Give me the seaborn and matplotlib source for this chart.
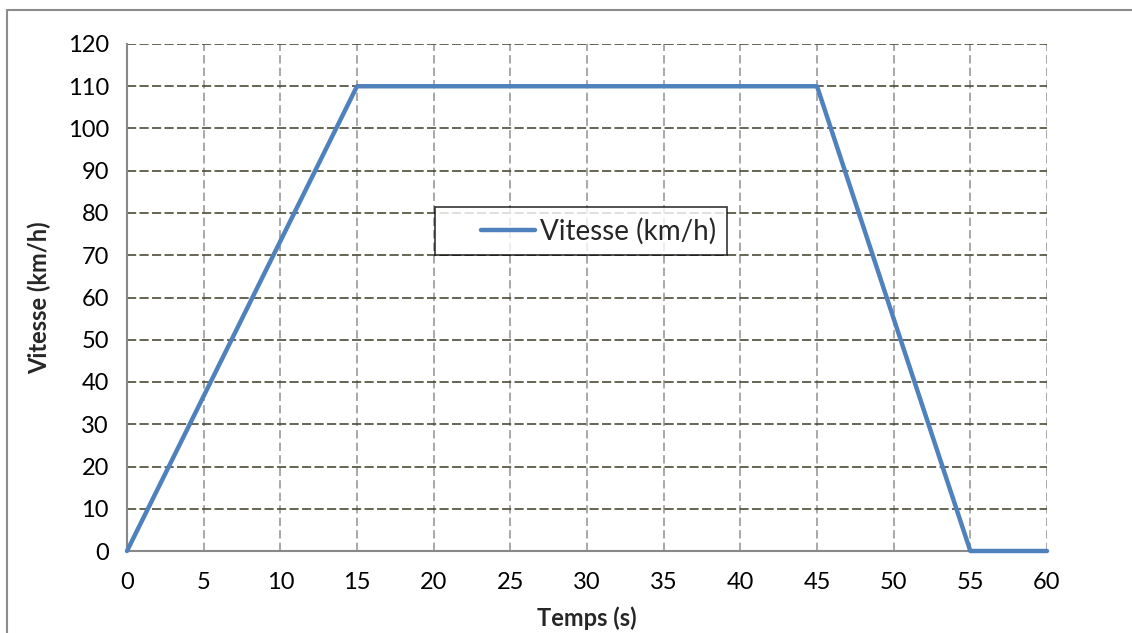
import matplotlib
matplotlib.use("Agg")
import matplotlib.pyplot as plt
import seaborn as sns
import pandas as pd
from matplotlib.lines import Line2D
from matplotlib.legend_handler import HandlerLine2D

temps = [0, 15, 45, 55, 60]
vitesse = [0, 110, 110, 0, 0]
x_ticks = [0, 5, 10, 15, 20, 25, 30, 35, 40, 45, 50, 55, 60]
y_ticks = [0, 10, 20, 30, 40, 50, 60, 70, 80, 90, 100, 110, 120]
series_name = "Vitesse (km/h)"

sns.set_theme(style="white")
plt.rcParams['font.family'] = ['Lato', 'DejaVu Sans']

df = pd.DataFrame({"Temps (s)": temps, series_name: vitesse})

fig = plt.figure(figsize=(11.32, 6.33), dpi=100)
ax = fig.add_axes([127/1132, 1 - 551/633, 920/1132, 507/633])

sns.lineplot(data=df, x="Temps (s)", y=series_name, ax=ax, color="#4f81bd",
             linewidth=3.2, label=series_name, zorder=5, clip_on=False)

ax.set_xlim(0, 60)
ax.set_ylim(0, 120)
ax.set_xticks(x_ticks)
ax.set_yticks(y_ticks)
ax.tick_params(axis='both', labelsize=17, colors="#888888", labelcolor="black",
               length=7, width=1.2, direction='out', pad=6)
ax.tick_params(axis='x', pad=8)

for y in y_ticks[1:]:
    ax.axhline(y, color="#4d4a38", linestyle=(0, (5.5, 2)), linewidth=1.2, zorder=1)
for x in x_ticks[1:]:
    ax.axvline(x, color="#999999", linestyle=(0, (5, 2.5)), linewidth=1.2, zorder=0.9)

for s in ["top", "right"]:
    ax.spines[s].set_visible(False)
for s in ["left", "bottom"]:
    ax.spines[s].set_color("#888888")
    ax.spines[s].set_linewidth(1.5)

ax.set_xlabel("Temps (s)", fontsize=17, fontweight="bold", labelpad=10)
ax.set_ylabel("Vitesse (km/h)", fontsize=17, fontweight="bold", labelpad=12)

handles, labels = ax.get_legend_handles_labels()
leg = ax.legend(handles, labels, loc="center", bbox_to_anchor=(0.4935, 0.631), fontsize=20,
                frameon=True, fancybox=False, handlelength=3.2, handletextpad=0.18,
                borderpad=0.38, borderaxespad=0,
                handler_map={Line2D: HandlerLine2D(xpad=1.25)})
leg.get_frame().set_edgecolor("black")
leg.get_frame().set_linewidth(1.2)
leg.set_zorder(10)

# outer chart border (top and left edges visible)
fig.add_artist(Line2D([7/1132, 1], [1 - 10/633, 1 - 10/633], color="#8c8c8c", linewidth=1.5,
                      transform=fig.transFigure))
fig.add_artist(Line2D([7/1132, 7/1132], [0, 1 - 10/633], color="#8c8c8c", linewidth=1.5,
                      transform=fig.transFigure))

fig.savefig("out.png", dpi=100)
